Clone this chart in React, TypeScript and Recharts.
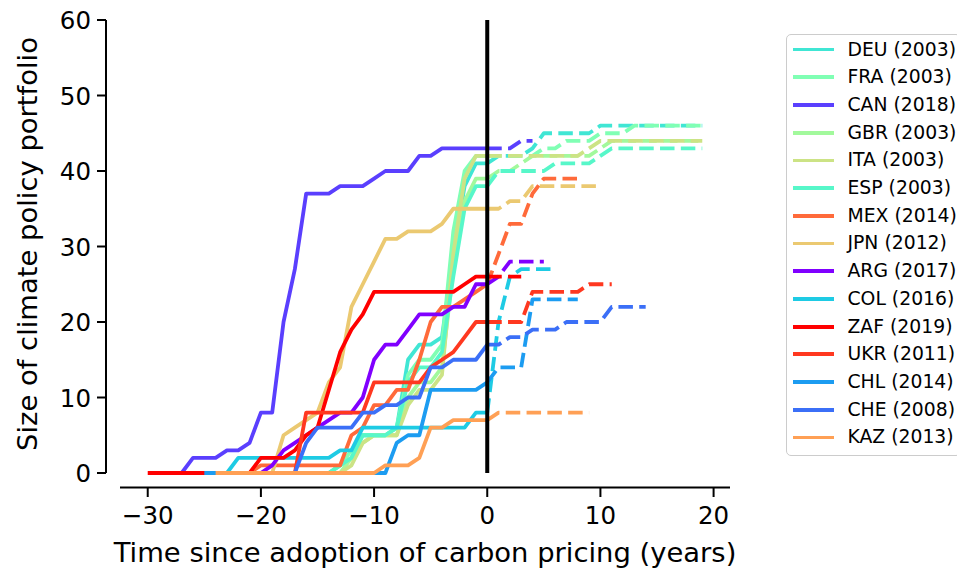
import React from 'react';
import { LineChart, Line, XAxis, YAxis, ReferenceLine } from 'recharts';

// countries in drawing / legend order
const COUNTRIES = ['DEU', 'FRA', 'CAN', 'GBR', 'ITA', 'ESP', 'MEX', 'JPN', 'ARG', 'COL', 'ZAF', 'UKR', 'CHL', 'CHE', 'KAZ'];
const ADOPTION = [2003, 2003, 2018, 2003, 2003, 2003, 2014, 2012, 2017, 2016, 2019, 2011, 2014, 2008, 2013];
const COLORS = [
  '#40e6d4', '#80ffb4', '#5a3ffe', '#a2f99c', '#cce385', '#57f7c9', '#ff6a3a', '#ebc971',
  '#8000ff', '#1ecbe4', '#ff0000', '#ff3820', '#1c9cf1', '#3b6ff7', '#ffa055',
];
// first year of each series, relative to adoption
const START = [-14, -14, -29, -14, -14, -14, -25, -23, -28, -27, -30, -22, -25, -19, -24];

const DEU = [0, 1, 2, 5, 5, 5, 6, 15, 17, 17, 18, 29, 38, 41, 41, 42, 42, 42, 43, 45, 45, 45, 45, 45, 46, 46, 46, 46, 46, 46, 46, 46, 46, 46];
const FRA = [0, 1, 3, 5, 5, 5, 6, 13, 15, 15, 17, 32, 40, 42, 42, 42, 42, 42, 42, 43, 43, 44, 44, 44, 45, 45, 45, 46, 46, 46, 46, 46, 46, 46];
const CAN = [0, 0, 0, 2, 2, 2, 3, 3, 4, 8, 8, 20, 27, 37, 37, 37, 38, 38, 38, 39, 40, 40, 40, 42, 42, 43, 43, 43, 43, 43, 43, 43, 44, 44];
const GBR = [0, 0, 2, 4, 5, 5, 5, 10, 12, 12, 14, 27, 36, 39, 39, 40, 40, 41, 42, 42, 42, 42, 42, 42, 43, 44, 44, 44, 44, 44, 44, 44, 44, 44];
const ITA = [0, 0, 1, 4, 5, 5, 5, 9, 11, 11, 13, 29, 39, 42, 42, 42, 42, 42, 42, 42, 42, 42, 42, 43, 44, 44, 44, 44, 44, 44, 44, 44, 44, 44];
const ESP = [0, 1, 2, 5, 5, 5, 6, 12, 14, 14, 16, 26, 35, 38, 38, 40, 40, 40, 40, 40, 41, 41, 41, 41, 42, 43, 43, 43, 43, 43, 43, 43, 43, 43];
const MEX = [0, 0, 0, 0, 0, 1, 1, 1, 1, 1, 1, 1, 1, 5, 6, 9, 9, 11, 11, 15, 20, 22, 22, 23, 24, 25, 29, 33, 33, 37, 39, 39, 39, 39];
const JPN = [0, 0, 0, 0, 0, 5, 6, 7, 8, 12, 14, 22, 25, 28, 31, 31, 32, 32, 32, 33, 35, 35, 35, 35, 35, 36, 36, 38, 38, 38, 38, 38, 38, 38];
const ARG = [0, 0, 0, 0, 0, 0, 0, 0, 0, 1, 3, 4, 5, 6, 7, 8, 8, 10, 15, 17, 17, 19, 21, 21, 21, 22, 22, 25, 25, 26, 28, 28, 28, 28];
const COL = [0, 0, 0, 0, 0, 2, 2, 2, 2, 2, 2, 2, 2, 2, 3, 3, 6, 6, 6, 6, 6, 6, 6, 6, 6, 6, 8, 8, 20, 26, 27, 27, 27, 27];
const ZAF = [0, 0, 0, 0, 0, 0, 0, 0, 0, 0, 2, 2, 2, 3, 5, 6, 11, 16, 19, 21, 24, 24, 24, 24, 24, 24, 24, 24, 25, 26, 26, 26, 26, 26];
const UKR = [0, 0, 0, 0, 0, 0, 8, 8, 8, 8, 8, 8, 12, 12, 12, 12, 12, 14, 15, 16, 18, 20, 20, 20, 20, 20, 24, 24, 24, 24, 24, 25, 25, 25];
const CHL = [0, 0, 0, 0, 0, 0, 0, 0, 0, 0, 0, 0, 0, 0, 0, 0, 0, 4, 5, 5, 11, 11, 11, 11, 11, 12, 14, 14, 14, 23, 23, 23, 23, 23];
const CHE = [0, 0, 0, 4, 6, 6, 6, 6, 8, 8, 9, 9, 10, 10, 14, 14, 15, 15, 15, 17, 17, 18, 18, 19, 19, 19, 20, 20, 20, 20, 22, 22, 22, 22];
const KAZ = [0, 0, 0, 0, 0, 0, 0, 0, 0, 0, 0, 0, 0, 0, 0, 1, 1, 1, 2, 6, 6, 7, 7, 7, 7, 8, 8, 8, 8, 8, 8, 8, 8, 8];

const SERIES = [DEU, FRA, CAN, GBR, ITA, ESP, MEX, JPN, ARG, COL, ZAF, UKR, CHL, CHE, KAZ];

const X_TICKS = [-30, -20, -10, 0, 10, 20];
const Y_TICKS = [0, 10, 20, 30, 40, 50, 60];

// one row per year since adoption; solid part up to 0, dashed part from 0
const rows: Record<string, number>[] = [];
for (let x = -30; x <= 19; x++) {
  const row: Record<string, number> = { x };
  COUNTRIES.forEach((c, i) => {
    const v = SERIES[i][x - START[i]];
    if (v === undefined || x < START[i]) return;
    if (x <= 0) row[c + '_s'] = v;
    if (x >= 0) row[c + '_d'] = v;
  });
  rows.push(row);
}

const FONT = 'DejaVu Sans';
const fmt = (v: number) => (v < 0 ? '\u2212' + Math.abs(v) : String(v));

const XTick = (props: any) => (
  <text x={props.x} y={props.y + 41.5} textAnchor="middle" fontSize={24.5} fontFamily={FONT} fill="#000">
    {fmt(props.payload.value)}
  </text>
);

const YTick = (props: any) => (
  <text x={props.x - 20} y={props.y + 9} textAnchor="end" fontSize={24.5} fontFamily={FONT} fill="#000">
    {fmt(props.payload.value)}
  </text>
);

function LegendBox() {
  return (
    <div
      style={{
        position: 'absolute', left: 786, top: 34, width: 175, height: 422,
        border: '1.5px solid #cccccc', borderRadius: 5, background: 'rgba(255,255,255,0.8)',
        boxSizing: 'border-box', fontFamily: FONT, fontSize: 18.8, color: '#000',
      }}
    >
      {COUNTRIES.map((c, i) => (
        <div key={c} style={{ position: 'absolute', left: 0, top: 2.5 + i * 27.71, height: 24, width: 175 }}>
          <div style={{ position: 'absolute', left: 5.5, top: 10.2, width: 41, height: 3.8, background: COLORS[i] }} />
          <div style={{ position: 'absolute', left: 60.5, top: 0, lineHeight: '24px', whiteSpace: 'nowrap' }}>
            {c} ({ADOPTION[i]})
          </div>
        </div>
      ))}
    </div>
  );
}

export default function App() {
  return (
    <div style={{ position: 'absolute', left: 0, top: 0, width: 957, height: 570, background: '#fff' }}>
      <LineChart width={957} height={570} data={rows} margin={{ top: 20, right: 227, bottom: 0, left: 0 }}>
        <XAxis
          dataKey="x"
          type="number"
          domain={[-32.45, 21.45]}
          ticks={X_TICKS}
          interval={0}
          allowDataOverflow
          height={97}
          axisLine={{ stroke: '#000', strokeWidth: 2, transform: 'translate(0,14.5)' }}
          tickLine={{ stroke: '#000', strokeWidth: 2, transform: 'translate(0,14.5)' }}
          tickSize={9.5}
          tickMargin={0}
          tick={<XTick />}
          label={{
            content: (p: any) => (
              <text x={p.viewBox.x + p.viewBox.width / 2} y={p.viewBox.y + 89} textAnchor="middle" fontSize={27.4} fontFamily={FONT} fill="#000">
                Time since adoption of carbon pricing (years)
              </text>
            ),
          }}
        />
        <YAxis
          type="number"
          domain={[0, 60]}
          ticks={Y_TICKS}
          interval={0}
          width={120}
          axisLine={{ stroke: '#000', strokeWidth: 2, transform: 'translate(-14,0)' }}
          tickLine={{ stroke: '#000', strokeWidth: 2, transform: 'translate(-14,0)' }}
          tickSize={9}
          tickMargin={0}
          tick={<YTick />}
          label={{
            content: () => (
              <text x={37} y={244} transform="rotate(-90, 37, 244)" textAnchor="middle" fontSize={27.4} fontFamily={FONT} fill="#000">
                Size of climate policy portfolio
              </text>
            ),
          }}
        />
        {COUNTRIES.flatMap((c, i) => [
          <Line key={c + '_s'} dataKey={c + '_s'} type="linear" stroke={COLORS[i]} strokeWidth={3.8}
            strokeLinejoin="round" dot={false} activeDot={false} isAnimationActive={false} />,
          <Line key={c + '_d'} dataKey={c + '_d'} type="linear" stroke={COLORS[i]} strokeWidth={3.8}
            strokeDasharray="14.5 6.3" strokeLinejoin="round" dot={false} activeDot={false} isAnimationActive={false} />,
        ])}
        <ReferenceLine x={0} stroke="#000" strokeWidth={4} />
      </LineChart>
      <LegendBox />
    </div>
  );
}
